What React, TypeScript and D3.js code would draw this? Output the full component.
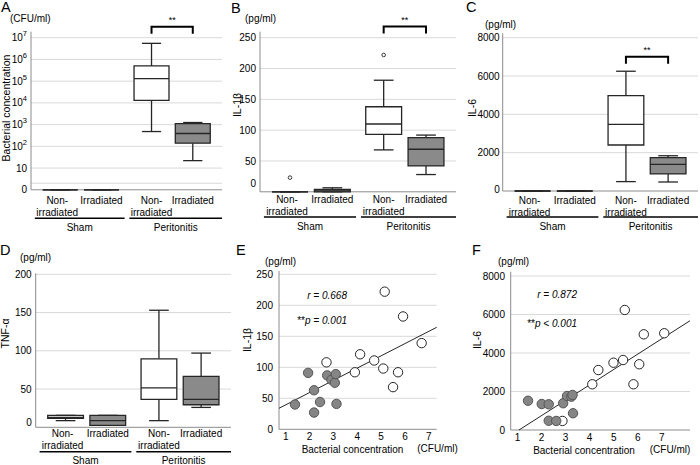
import React from 'react';
import * as d3 from 'd3';

const FONT = '"Liberation Sans", Arial, Helvetica, sans-serif';

// ---------- data ----------
const groupNames = ['Sham', 'Peritonitis'];
const conditionNames = ['Non-irradiated', 'Irradiated'];

// per box: [whisker low, Q1, median, Q3, whisker high]; order: Sham non-irr, Sham irr, Peritonitis non-irr, Peritonitis irr
const bacteriaStats = [
  [0, 0, 0, 0, 0],
  [0, 0, 0, 0, 0],
  [480, 13000, 130000, 500000, 5500000],
  [22, 140, 390, 1100, 1250],
];
const bacteriaTicks = [0, 10, 1e2, 1e3, 1e4, 1e5, 1e6, 1e7];
const bacteriaExtraGrid = [2];

const il1bStats = [
  [0, 0, 0, 0, 0],
  [0, 0, 1.5, 4, 6.5],
  [68, 93, 110, 138, 181],
  [28, 42, 69, 88, 92],
];
const il1bOutliers = [[23], [], [222], []];
const il1bTicks = [0, 50, 100, 150, 200, 250];

const il6Stats = [
  [0, 0, 0, 0, 0],
  [0, 0, 0, 0, 0],
  [490, 2400, 3480, 4980, 6250],
  [470, 890, 1390, 1740, 1840],
];
const il6Ticks = [0, 2000, 4000, 6000, 8000];

const tnfStats = [
  [8.7, 11.7, 12.8, 15.6, 15.6],
  [2.6, 2.6, 8.7, 15.6, 15.6],
  [8.7, 36.5, 51.5, 89.5, 153],
  [26, 29.5, 36.5, 66.5, 97],
];
const tnfTicks = [0, 50, 100, 150, 200];

const scatterXTicks = [1, 2, 3, 4, 5, 6, 7];
const il1bScatterTicks = [0, 50, 100, 150, 200, 250];
const il6ScatterTicks = [0, 2000, 4000, 6000, 8000];

// E: IL-1β vs log10 bacterial concentration
const eIrrX = [1.39, 1.94, 2.19, 2.19, 2.44, 2.74, 2.92, 3.06, 3.1, 3.13];
const eIrrY = [40, 91, 63, 27, 44, 87, 80, 75, 89, 41];
const eNonX = [2.71, 3.9, 4.12, 4.71, 5.09, 5.15, 5.5, 5.71, 5.92, 6.7];
const eNonY = [108, 92, 121, 111, 98, 222, 68, 92, 182, 139];
const eFit = [19.7, 19.76]; // intercept, slope

// F: IL-6 vs log10 bacterial concentration
const fIrrX = [1.44, 2.01, 2.3, 2.3, 2.61, 2.9, 3.06, 3.24, 3.29, 3.31];
const fIrrY = [1520, 1350, 1335, 480, 470, 1390, 1765, 1730, 1820, 870];
const fNonX = [2.87, 4.11, 4.36, 4.99, 5.39, 5.46, 5.82, 6.06, 6.25, 7.1];
const fNonY = [470, 2375, 3115, 3495, 3635, 6235, 2375, 3415, 4970, 5025];
const fFit = [-851, 799];

// ---------- styles ----------
const GRID = '#d9d9d9';
const AXIS = '#8c8c8c';
const INK = '#262626';
const BOX_FILLS = ['#ffffff', '#8a8a8a'];
const catFrac = [0.153, 0.369, 0.631, 0.847];
const groupFrac = [[0.02, 0.49], [0.515, 1.0]];

type BoxProps = {
  letter: string; letterX: number; letterY: number;
  unit: string; unitX: number; unitY: number;
  title: string; titleX: number; titleY: number;
  x0: number; x1: number; axisTop: number;
  y: (v: number) => number;
  ticks: number[]; extraGrid?: number[];
  tickLabel: (v: number) => React.ReactNode;
  tickGap: number; zeroDy?: number;
  stats: number[][]; outliers?: number[][];
  bracket?: number;
  catLabelY: number; groupLineY: number;
};

function BoxPanel(p: BoxProps) {
  const xf = d3.scaleLinear().domain([0, 1]).range([p.x0, p.x1]);
  const centers = catFrac.map((f) => xf(f));
  const bw = (p.x1 - p.x0) * 0.183;
  const capW = bw * 0.55;
  const yBottom = p.y(0);
  return (
    <g>
      <text x={p.letterX} y={p.letterY} fontSize={14.5}>{p.letter}</text>
      <text x={p.unitX} y={p.unitY} fontSize={10}>{p.unit}</text>
      <text transform={`translate(${p.titleX},${p.titleY}) rotate(-90)`} textAnchor="middle" fontSize={10.5}>{p.title}</text>
      {p.ticks.filter((t) => p.y(t) < yBottom - 0.5).concat(p.extraGrid || []).map((t, i) => (
        <line key={'g' + i} x1={p.x0} x2={p.x1} y1={p.y(t)} y2={p.y(t)} stroke={GRID} strokeWidth={1} />
      ))}
      <line x1={p.x0} x2={p.x0} y1={p.axisTop} y2={yBottom} stroke={AXIS} strokeWidth={1} />
      <line x1={p.x0} x2={p.x1} y1={yBottom} y2={yBottom} stroke={AXIS} strokeWidth={1} />
      {p.ticks.map((t, i) => (
        <text key={'t' + i} x={p.x0 - p.tickGap} y={p.y(t) + 3.6 + (t === 0 ? (p.zeroDy || 0) : 0)} textAnchor="end" fontSize={10}>
          {p.tickLabel(t)}
        </text>
      ))}
      {p.stats.map((s, i) => {
        const cx = centers[i];
        const [lo, q1, med, q3, hi] = s;
        const fill = BOX_FILLS[i % 2];
        const yq1 = p.y(q1), yq3 = p.y(q3);
        return (
          <g key={'b' + i}>
            <line x1={cx} x2={cx} y1={p.y(hi)} y2={yq3} stroke={INK} strokeWidth={1.3} />
            <line x1={cx} x2={cx} y1={yq1} y2={p.y(lo)} stroke={INK} strokeWidth={1.3} />
            <line x1={cx - capW / 2} x2={cx + capW / 2} y1={p.y(hi)} y2={p.y(hi)} stroke={INK} strokeWidth={1.3} />
            <line x1={cx - capW / 2} x2={cx + capW / 2} y1={p.y(lo)} y2={p.y(lo)} stroke={INK} strokeWidth={1.3} />
            <path d={`M${cx - bw / 2},${yq3}H${cx + bw / 2}V${yq1}H${cx - bw / 2}Z`} fill={fill} stroke={INK} strokeWidth={1.3} />
            <line x1={cx - bw / 2} x2={cx + bw / 2} y1={p.y(med)} y2={p.y(med)} stroke={INK} strokeWidth={1.3} />
            {(p.outliers?.[i] || []).map((o, j) => (
              <circle key={j} cx={cx} cy={p.y(o)} r={1.8} fill="#fff" stroke={INK} strokeWidth={0.9} />
            ))}
          </g>
        );
      })}
      {p.bracket !== undefined && (
        <g>
          <path d={`M${centers[2]},${p.y(p.bracket) + 7}V${p.y(p.bracket)}H${centers[3]}V${p.y(p.bracket) + 7}`} fill="none" stroke="#000" strokeWidth={2} />
          <text x={(centers[2] + centers[3]) / 2} y={p.y(p.bracket) - 4} textAnchor="middle" fontSize={9}>**</text>
        </g>
      )}
      {centers.map((cx, i) => {
        const lines = conditionNames[i % 2].split(/(?<=-)/);
        return (
          <text key={'c' + i} textAnchor="middle" fontSize={10}>
            {lines.map((l, j) => (
              <tspan key={j} x={cx - (lines.length > 1 && i === 0 ? 3 : 0)} y={p.catLabelY + j * 12}>{l}</tspan>
            ))}
          </text>
        );
      })}
      {groupNames.map((g, i) => {
        const a = xf(groupFrac[i][0]);
        const b = xf(groupFrac[i][1]);
        return (
          <g key={'gr' + i}>
            <line x1={a} x2={b} y1={p.groupLineY} y2={p.groupLineY} stroke="#000" strokeWidth={1.5} />
            <text x={(a + b) / 2} y={p.groupLineY + 12.5} textAnchor="middle" fontSize={10}>{g}</text>
          </g>
        );
      })}
    </g>
  );
}

type ScatterProps = {
  letter: string; letterX: number; letterY: number;
  unit: string; unitX: number; unitY: number;
  title: string; titleX: number; titleY: number;
  x: d3.ScaleLinear<number, number>; y: d3.ScaleLinear<number, number>;
  axisTop: number; yTicks: number[]; tickGap: number; xTickDy: number;
  irrX: number[]; irrY: number[]; nonX: number[]; nonY: number[];
  fit: number[];
  rText: string; pText: string; annX: number; rY: number; pY: number;
  xTitleX: number; xTitleY: number; xUnitX: number; xUnitY: number;
};

function ScatterPanel(p: ScatterProps) {
  const [xa, xb] = p.x.domain();
  const [ymin] = p.y.domain();
  const [a, b] = p.fit;
  let fx0 = xa;
  if (a + b * fx0 < ymin) fx0 = (ymin - a) / b;
  const fitLine = d3.line<number>().x((v) => p.x(v)).y((v) => p.y(a + b * v))([fx0, xb]);
  const [r0, r1] = p.x.range();
  const yBottom = p.y(ymin);
  return (
    <g>
      <text x={p.letterX} y={p.letterY} fontSize={14.5}>{p.letter}</text>
      <text x={p.unitX} y={p.unitY} fontSize={10}>{p.unit}</text>
      <text transform={`translate(${p.titleX},${p.titleY}) rotate(-90)`} textAnchor="middle" fontSize={10.5}>{p.title}</text>
      {p.yTicks.filter((t) => t !== ymin).map((t, i) => (
        <line key={'g' + i} x1={r0} x2={r1} y1={p.y(t)} y2={p.y(t)} stroke={GRID} strokeWidth={1} />
      ))}
      <line x1={r0} x2={r0} y1={p.axisTop} y2={yBottom} stroke={AXIS} strokeWidth={1} />
      <line x1={r0} x2={r1} y1={yBottom} y2={yBottom} stroke={AXIS} strokeWidth={1} />
      {p.yTicks.map((t, i) => (
        <text key={'yt' + i} x={r0 - p.tickGap} y={p.y(t) + 3.6} textAnchor="end" fontSize={10}>{t}</text>
      ))}
      {scatterXTicks.map((t, i) => (
        <text key={'xt' + i} x={p.x(t)} y={yBottom + p.xTickDy} textAnchor="middle" fontSize={10}>{t}</text>
      ))}
      <text x={p.xTitleX} y={p.xTitleY} textAnchor="middle" fontSize={10}>Bacterial  concentration</text>
      <text x={p.xUnitX} y={p.xUnitY} textAnchor="middle" fontSize={10}>(CFU/ml)</text>
      <path d={fitLine || ''} fill="none" stroke={INK} strokeWidth={1} />
      {p.nonX.map((v, i) => (
        <circle key={'n' + i} cx={p.x(v)} cy={p.y(p.nonY[i])} r={4.7} fill="#fff" stroke={INK} strokeWidth={1} />
      ))}
      {p.irrX.map((v, i) => (
        <circle key={'i' + i} cx={p.x(v)} cy={p.y(p.irrY[i])} r={4.7} fill="#858585" stroke="#555" strokeWidth={1} />
      ))}
      <text x={p.annX} y={p.rY} textAnchor="end" fontSize={10} fontStyle="italic">{p.rText}</text>
      <text x={p.annX} y={p.pY} textAnchor="end" fontSize={10}>
        <tspan>**</tspan><tspan fontStyle="italic">{p.pText}</tspan>
      </text>
    </g>
  );
}

export default function App() {
  const logA = d3.scaleLog().domain([1, 1e7]).range([189.8, 37.7]);
  const yA = (v: number) => logA(Math.max(v, 1));
  const supLabel = (v: number) => {
    if (v === 0) return '0';
    if (v === 10) return '10';
    const e = Math.round(Math.log10(v));
    return (
      <>
        10<tspan dy={-5} fontSize={7.5}>{e}</tspan>
      </>
    );
  };
  const yB = d3.scaleLinear().domain([0, 250]).range([191.8, 37.7]);
  const yC = d3.scaleLinear().domain([0, 8000]).range([191, 37.7]);
  const yD = d3.scaleLinear().domain([0, 200]).range([427.3, 274.3]);
  const xE = d3.scaleLinear().domain([0.72, 7.33]).range([279, 436.7]);
  const yE = d3.scaleLinear().domain([0, 250]).range([429.3, 274.3]);
  const xF = d3.scaleLinear().domain([0.72, 8.17]).range([510.7, 690]);
  const yF = d3.scaleLinear().domain([0, 8000]).range([430, 276]);
  const plain = (v: number) => String(v);

  return (
    <svg width={700} height={465} style={{ position: 'absolute', left: 0, top: 0, background: '#fff' }} fontFamily={FONT} fill="#000">
      <rect width={700} height={465} fill="#fff" />
      <BoxPanel letter="A" letterX={1} letterY={12} unit="(CFU/ml)" unitX={10} unitY={22}
        title="Bacterial concentration" titleX={9.5} titleY={108}
        x0={31} x1={222} axisTop={31.7} y={yA} ticks={bacteriaTicks} extraGrid={bacteriaExtraGrid}
        tickLabel={supLabel} tickGap={4} stats={bacteriaStats} bracket={3.2e7}
        catLabelY={203.5} groupLineY={218.3} />
      <BoxPanel letter="B" letterX={231} letterY={13} unit="(pg/ml)" unitX={245} unitY={22}
        title="IL-1β" titleX={240.5} titleY={105}
        x0={260} x1={456} axisTop={31.7} y={yB} ticks={il1bTicks} tickLabel={plain} tickGap={4} zeroDy={-8}
        stats={il1bStats} outliers={il1bOutliers} bracket={268}
        catLabelY={203} groupLineY={217} />
      <BoxPanel letter="C" letterX={466} letterY={12} unit="(pg/ml)" unitX={485} unitY={27.5}
        title="IL-6" titleX={475.5} titleY={108}
        x0={502.7} x1={698} axisTop={33.3} y={yC} ticks={il6Ticks} tickLabel={plain} tickGap={3} zeroDy={-2}
        stats={il6Stats} bracket={7000}
        catLabelY={203.5} groupLineY={217} />
      <BoxPanel letter="D" letterX={0} letterY={255} unit="(pg/ml)" unitX={20} unitY={261}
        title="TNF-α" titleX={8.5} titleY={333.5}
        x0={35.7} x1={231} axisTop={273.3} y={yD} ticks={tnfTicks} tickLabel={plain} tickGap={4} zeroDy={-5}
        stats={tnfStats}
        catLabelY={437} groupLineY={451.7} />
      <ScatterPanel letter="E" letterX={236} letterY={255} unit="(pg/ml)" unitX={265} unitY={265}
        title="IL-1β" titleX={250.5} titleY={340} x={xE} y={yE} axisTop={271} yTicks={il1bScatterTicks}
        tickGap={6} xTickDy={10.2} irrX={eIrrX} irrY={eIrrY} nonX={eNonX} nonY={eNonY} fit={eFit}
        rText="r = 0.668" pText="p = 0.001" annX={347} rY={298.5} pY={323.5}
        xTitleX={352.5} xTitleY={452.5} xUnitX={437.5} xUnitY={451.5} />
      <ScatterPanel letter="F" letterX={472} letterY={255} unit="(pg/ml)" unitX={498} unitY={265}
        title="IL-6" titleX={480.5} titleY={340} x={xF} y={yF} axisTop={271.7} yTicks={il6ScatterTicks}
        tickGap={5.7} xTickDy={11} irrX={fIrrX} irrY={fIrrY} nonX={fNonX} nonY={fNonY} fit={fFit}
        rText="r = 0.872" pText="p < 0.001" annX={577} rY={297.5} pY={327}
        xTitleX={584} xTitleY={453.5} xUnitX={670} xUnitY={452.5} />
    </svg>
  );
}
